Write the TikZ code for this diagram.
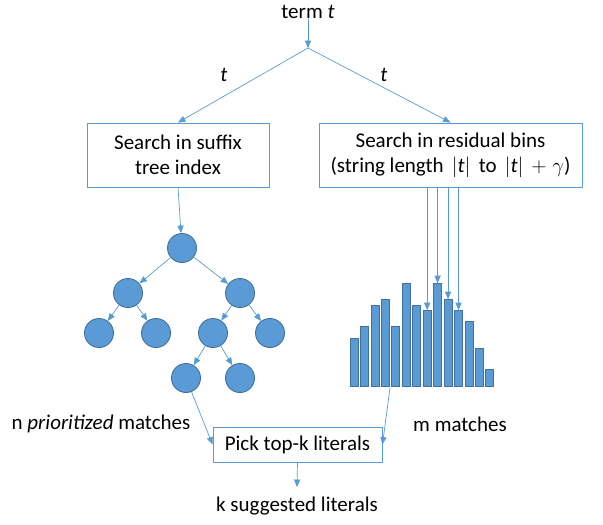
\documentclass[tikz,border=0pt]{standalone}
\usepackage{fontspec}
\setmainfont{Carlito}
\usepackage{tikz}
\usetikzlibrary{arrows}
\definecolor{lineblue}{HTML}{5B9BD5}
\definecolor{darkblue}{HTML}{41719C}
\tikzset{
  txt/.style={font=\fontsize{21}{25}\selectfont,inner sep=0pt,align=center},
  stepbox/.style={draw=lineblue,line width=0.9pt,txt,minimum width=#1},
  knot/.style={circle,fill=lineblue,draw=darkblue,line width=0.9pt,minimum size=29pt,inner sep=0pt},
  bar/.style={rectangle,fill=lineblue,draw=darkblue,line width=0.8pt,minimum width=8pt,inner sep=0pt,anchor=south},
  conn/.style={draw=lineblue,line width=0.7pt},
  arr/.style={conn,-triangle 45}
}
\begin{document}
\begin{tikzpicture}[x=1pt,y=-1pt]
\useasboundingbox (0,0) rectangle (603,525);
% input and the two searches
\node[txt] (term) at (308,12) {term \textit{t}};
\coordinate (split) at (308,48);
\node[stepbox=182pt,minimum height=64pt] (lbox) at (178,155) {Search in suffix\\tree index};
\node[stepbox=263pt,minimum height=64pt] (rbox) at (450.5,155)
  {Search in residual bins\\(string length \,$|$\textit{t}$|$\, to \,$|$\textit{t}$|$\, $+\;\gamma$)};
\node[txt] (tl) at (224,75) {\textit{t}};
\node[txt] (tr) at (384,75) {\textit{t}};
\draw[arr] (term.south) -- (split);
\draw[arr] (split) -- (lbox.north);
\draw[arr] (split) -- (rbox.north);
% suffix tree
\node[knot] (r) at (182,248) {};
\node[knot] (a) at (128,293) {};
\node[knot] (b) at (240,293) {};
\node[knot] (aa) at (99,333) {};
\node[knot] (ab) at (156,333) {};
\node[knot] (ba) at (213,333) {};
\node[knot] (bb) at (270,333) {};
\node[knot] (baa) at (186,378) {};
\node[knot] (bab) at (240,378) {};
\draw[arr] (lbox.south) -- (r);
\foreach \u/\v in {r/a,r/b,a/aa,a/ab,b/ba,b/bb,ba/baa,ba/bab}
  \draw[arr] (\u) -- (\v);
% residual bins
\foreach \h [count=\i] in {48,60,81,87,60,103,81,76,103,87,76,65,38,17}
  \node[bar,minimum height=\h pt] (b\i) at ({354+(\i-1)*10.45},387) {};
\foreach \i in {8,...,11}
  \draw[arr] (b\i.north |- rbox.south) -- (b\i.north);
\coordinate (hb) at (390,388);
% selection
\node[stepbox=169pt,minimum height=35pt] (pick) at (297.5,444.5) {Pick top-k literals};
\node[txt] (nm) at (101,424) {n \textit{prioritized} matches};
\node[txt] (mm) at (460,424) {m matches};
\node[txt] (out) at (297,506) {k suggested literals};
\draw[arr] (baa) -- (pick.west);
\draw[arr] (hb) -- (pick.east);
\draw[arr] (pick.south) -- (297,487);
\end{tikzpicture}
\end{document}
